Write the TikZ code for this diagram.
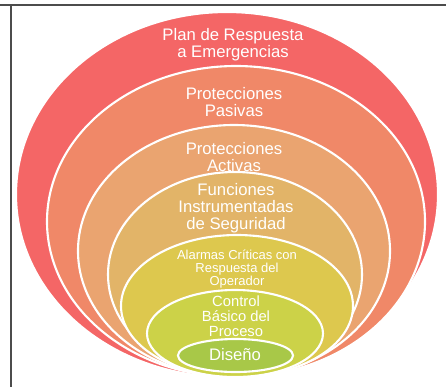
\documentclass[tikz,border=0pt]{standalone}
\usepackage{fontspec}
\setmainfont{Liberation Sans}

\definecolor{capaA}{RGB}{244,102,102}
\definecolor{capaB}{RGB}{240,136,104}
\definecolor{capaC}{RGB}{234,164,112}
\definecolor{capaD}{RGB}{226,180,104}
\definecolor{capaE}{RGB}{221,200,78}
\definecolor{capaF}{RGB}{204,210,72}
\definecolor{capaG}{RGB}{168,200,72}

\begin{document}
\begin{tikzpicture}[x=0.02cm, y=0.02cm,
    capa/.style={draw=white, line width=1.2pt},
    rotulo/.style={text=white, align=center, inner sep=0pt,
      font=\fontsize{9.5}{9.8}\selectfont}]
  \useasboundingbox (0,0) rectangle (446,387);
  % marco
  \draw[gray!60!black, line width=0.6pt] (0,382) -- (446,382);
  \draw[gray!60!black, line width=0.6pt] (11,382) -- (11,0);
  % capas, de fuera hacia dentro
  \foreach \cx/\cy/\rx/\ry/\col in {227/192.5/211/182.5/capaA,
      236/165.5/189/155.5/capaB, 234/136/156/126/capaC,
      235/112.5/127/102.5/capaD, 237/81/116/71/capaE,
      235/53.5/88/43.5/capaF, 235.5/31.5/57.5/16.5/capaG}
    \draw[capa, fill=\col] (\cx,\cy) ellipse [x radius=\rx, y radius=\ry];
  % rotulos
  \node[rotulo] (plan) at (233,342) {Plan de Respuesta\\a Emergencias};
  \node[rotulo] (pasivas) at (234,285) {Protecciones\\Pasivas};
  \node[rotulo] (activas) at (234,230) {Protecciones\\Activas};
  \node[rotulo] (sis) at (236,179) {Funciones\\Instrumentadas\\de Seguridad};
  \node[rotulo, font=\fontsize{7.4}{7.6}\selectfont] (alarmas) at (237,118)
    {Alarmas Críticas con\\Respuesta del\\Operador};
  \node[rotulo, font=\fontsize{8.4}{8.6}\selectfont] (control) at (236,71)
    {Control\\Básico del\\Proceso};
  \node[rotulo] (diseno) at (235,32) {Diseño};
\end{tikzpicture}
\end{document}
